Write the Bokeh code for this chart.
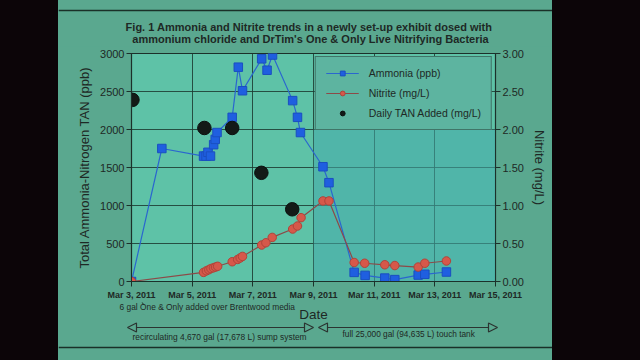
import pandas as pd
from bokeh.plotting import figure
from bokeh.models import (Range1d, LinearAxis, FixedTicker, Legend, LegendItem, Label,
                          Arrow, NormalHead, Div, BoxAnnotation, NumeralTickFormatter)
from bokeh.layouts import row
from bokeh.embed import file_html
from bokeh.resources import INLINE

# ---------------- data ----------------
ammonia_time = ["2011-03-03 00:00", "2011-03-04 00:00", "2011-03-05 09:00", "2011-03-05 11:00",
                "2011-03-05 12:30", "2011-03-05 14:30", "2011-03-05 17:00", "2011-03-05 18:15",
                "2011-03-05 19:40", "2011-03-06 07:40", "2011-03-06 12:30", "2011-03-06 15:50",
                "2011-03-07 07:00", "2011-03-07 11:15", "2011-03-07 15:35", "2011-03-08 07:30",
                "2011-03-08 11:20", "2011-03-08 13:40", "2011-03-09 07:30", "2011-03-09 12:15",
                "2011-03-10 08:10", "2011-03-10 16:50", "2011-03-11 08:25", "2011-03-11 16:20",
                "2011-03-12 10:50", "2011-03-12 16:05", "2011-03-13 09:10"]
ammonia_ppb = [0, 1750, 1650, 1650, 1700, 1650, 1800, 1870, 1960, 2160, 2820, 2510,
               2930, 2780, 2980, 2380, 2160, 1960, 1510, 1300, 120, 80, 45, 25, 85, 95, 125]

nitrite_time = ["2011-03-03 00:00", "2011-03-05 09:00", "2011-03-05 11:15", "2011-03-05 13:10",
                "2011-03-05 14:50", "2011-03-05 16:50", "2011-03-05 18:30", "2011-03-05 20:10",
                "2011-03-06 07:40", "2011-03-06 12:00", "2011-03-06 14:00", "2011-03-06 15:50",
                "2011-03-07 07:00", "2011-03-07 10:20", "2011-03-07 15:20", "2011-03-08 07:30",
                "2011-03-08 11:20", "2011-03-08 14:10", "2011-03-09 07:30", "2011-03-09 12:15",
                "2011-03-10 08:10", "2011-03-10 16:30", "2011-03-11 08:25", "2011-03-11 16:20",
                "2011-03-12 10:50", "2011-03-12 16:05", "2011-03-13 09:10"]
nitrite_mgL = [0.0, 0.12, 0.14, 0.155, 0.17, 0.18, 0.19, 0.20, 0.26, 0.29, 0.31, 0.33,
               0.48, 0.51, 0.58, 0.69, 0.73, 0.84, 1.06, 1.06, 0.25, 0.24, 0.22, 0.21,
               0.19, 0.24, 0.27]

tan_time = ["2011-03-03 00:45", "2011-03-05 09:40", "2011-03-06 07:40", "2011-03-07 06:45",
            "2011-03-08 07:10"]
tan_mgL = [2.39, 2.02, 2.02, 1.43, 0.95]

tick_dates = ["2011-03-03", "2011-03-05", "2011-03-07", "2011-03-09",
              "2011-03-11", "2011-03-13", "2011-03-15"]
tick_labels = ["Mar 3, 2011", "Mar 5, 2011", "Mar 7, 2011", "Mar 9, 2011",
               "Mar 11, 2011", "Mar 13, 2011", "Mar 15, 2011"]
left_ticks = [0, 500, 1000, 1500, 2000, 2500, 3000]
right_ticks = [0.0, 0.5, 1.0, 1.5, 2.0, 2.5, 3.0]

title_lines = ["Fig. 1  Ammonia and Nitrite trends in a newly set-up exhibit dosed with",
               "ammonium chloride and DrTim's One & Only Live Nitrifying Bacteria"]
note_media = "6 gal One & Only added over Brentwood media"
note_sump = "recirculating 4,670 gal (17,678 L) sump system"
note_tank = "full 25,000 gal (94,635 L) touch tank"


def to_ms(lst):
    return [float(v) for v in (pd.to_datetime(lst) - pd.Timestamp("1970-01-01")) / pd.Timedelta("1ms")]


ax_ms = to_ms(ammonia_time)
nx_ms = to_ms(nitrite_time)
tx_ms = to_ms(tan_time)
tk_ms = [int(round(v)) for v in to_ms(tick_dates)]

# ---------------- layout (absolute pixels of the 640x360 page) ----------------
LEFT_DARK = 58
RIGHT_EDGE = 552
W = RIGHT_EDGE - LEFT_DARK
TOP_H = 46          # title strip 0..46
MAIN_BOTTOM = 302   # main figure 46..302
FL, FR, FT, FB = 131, 495, 53, 282

TXT = "#1e2925"
FONT = "Liberation Sans"
SLIDE = "#5aa88f"
PLOTBG = "#5ec2a7"
EDGE = "#1a3028"
DARK = "#0c0508"
ARROW = "#2b3431"


def strip(height, y_top):
    """A figure whose frame fills its whole canvas, with page-pixel coordinates."""
    f = figure(width=W, height=height, output_backend="svg", toolbar_location=None,
               x_range=Range1d(LEFT_DARK, RIGHT_EDGE), y_range=Range1d(y_top + height, y_top),
               min_border=0, background_fill_color=SLIDE, border_fill_color=SLIDE,
               outline_line_color=None)
    f.axis.visible = False
    f.grid.visible = False
    return f


def framed(fig, height):
    l = Div(text="", width=LEFT_DARK, height=height, margin=0, styles={"background-color": DARK})
    r = Div(text="", width=640 - RIGHT_EDGE, height=height, margin=0, styles={"background-color": DARK})
    return row(l, fig, r, spacing=0, margin=0, styles={"background-color": SLIDE})


# ---- title strip ----
top = strip(TOP_H, 0)
top.add_layout(Arrow(x_start=LEFT_DARK, y_start=10, x_end=RIGHT_EDGE, y_end=10, end=None,
                     line_color=EDGE, line_width=1.5))
for i, t in enumerate(title_lines):
    top.add_layout(Label(x=310, y=26.5 + 12 * i, text=t, text_align="center", text_baseline="middle",
                         text_font=FONT, text_font_style="bold", text_font_size="11px",
                         text_color=TXT))

# ---- main chart ----
p = figure(width=W, height=MAIN_BOTTOM - TOP_H, output_backend="svg", toolbar_location=None,
           x_range=Range1d(tk_ms[0], tk_ms[-1]), y_range=Range1d(0, 3000),
           min_border_left=FL - LEFT_DARK, min_border_right=RIGHT_EDGE - FR,
           min_border_top=FT - TOP_H, min_border_bottom=MAIN_BOTTOM - FB,
           background_fill_color=PLOTBG, border_fill_color=SLIDE,
           outline_line_color="#1c302a", outline_line_width=1.2)
p.extra_y_ranges = {"nitrite": Range1d(0, 3)}

p.add_layout(BoxAnnotation(left=tk_ms[3], bottom=0, top=2000, fill_color="#45abab",
                           fill_alpha=0.55, line_alpha=0, level="underlay"))

p.xaxis.ticker = FixedTicker(ticks=tk_ms)
p.xaxis.major_label_overrides = {k: l for k, l in zip(tk_ms, tick_labels)}
p.xaxis.major_label_text_font = FONT
p.xaxis.major_label_text_font_style = "bold"
p.xaxis.major_label_text_font_size = "9px"
p.xaxis.major_label_text_color = TXT
p.xaxis.major_label_standoff = 3

p.yaxis.ticker = FixedTicker(ticks=left_ticks)
p.yaxis.axis_label = "Total Ammonia-Nitrogen TAN (ppb)"
p.yaxis.axis_label_standoff = 5
p.yaxis.major_label_standoff = 2

ry = LinearAxis(y_range_name="nitrite", ticker=FixedTicker(ticks=right_ticks),
                formatter=NumeralTickFormatter(format="0.00"), axis_label="Nitrite (mg/L)")
p.add_layout(ry, "right")
ry.major_label_standoff = 2
ry.axis_label_standoff = 5

for ax in [p.xaxis[0], p.yaxis[0], ry]:
    ax.axis_line_color = "#1c302a"
    ax.major_tick_line_color = "#1c302a"
    ax.major_tick_out = 5
    ax.major_tick_in = 0
    ax.minor_tick_line_color = None
for ax in [p.yaxis[0], ry]:
    ax.major_label_text_font = FONT
    ax.major_label_text_font_size = "11px"
    ax.major_label_text_color = TXT
    ax.axis_label_text_font = FONT
    ax.axis_label_text_font_style = "normal"
    ax.axis_label_text_font_size = "13px"
    ax.axis_label_text_color = TXT

p.xgrid.ticker = FixedTicker(ticks=tk_ms)
p.ygrid.ticker = FixedTicker(ticks=left_ticks)
p.grid.grid_line_color = "#1c3a30"
p.grid.grid_line_alpha = 0.85
p.grid.grid_line_width = 1

BLUE = "#1f5fe0"
RED = "#d6584a"
a_line = p.line(ax_ms, ammonia_ppb, line_color="#2a66cf", line_width=1.2)
a_pts = p.scatter(ax_ms, ammonia_ppb, marker="square", size=8.5, fill_color=BLUE, line_color="#1a4fc0")
n_line = p.line(nx_ms, nitrite_mgL, line_color="#8c4a48", line_width=1.2, y_range_name="nitrite")
n_pts = p.scatter(nx_ms, nitrite_mgL, marker="circle", size=8.5, fill_color=RED, line_color="#b0443a",
                  y_range_name="nitrite")
t_pts = p.scatter(tx_ms, tan_mgL, marker="circle", size=13.5, fill_color="#131a17", line_color="#0b100e",
                  y_range_name="nitrite")

legend = Legend(items=[LegendItem(label="Ammonia (ppb)", renderers=[a_line, a_pts]),
                       LegendItem(label="Nitrite (mg/L)", renderers=[n_line, n_pts]),
                       LegendItem(label="Daily TAN Added (mg/L)", renderers=[t_pts])],
                location="top_right", margin=3, padding=10, spacing=8,
                glyph_width=33, glyph_height=12, label_height=12, label_standoff=10,
                label_text_font=FONT, label_text_font_size="10.5px", label_text_color=TXT,
                background_fill_color="#5db4a0", background_fill_alpha=1,
                border_line_color="#24352f", border_line_width=1.5)
p.add_layout(legend)

# ---- notes strip under the axis ----
bot = strip(360 - MAIN_BOTTOM, MAIN_BOTTOM)
bot.add_layout(Label(x=313, y=314, text="Date", text_align="center", text_baseline="middle",
                     text_font=FONT, text_font_size="13.5px", text_color=TXT))
bot.add_layout(Label(x=119, y=306, text=note_media, text_align="left", text_baseline="middle",
                     text_font=FONT, text_font_size="8.4px", text_color=TXT))
bot.add_layout(Arrow(x_start=140.5, y_start=300, x_end=143, y_end=304, end=None,
                     line_color="#1c2a26", line_width=1))
for xs, xe in [(127, 313), (318, 497)]:
    bot.add_layout(Arrow(x_start=xs, y_start=327, x_end=xe, y_end=327,
                         line_color=ARROW, line_width=1.2,
                         start=NormalHead(size=9, fill_color=SLIDE, line_color=ARROW, line_width=1.2),
                         end=NormalHead(size=9, fill_color=SLIDE, line_color=ARROW, line_width=1.2)))
bot.add_layout(Label(x=132, y=336, text=note_sump, text_align="left", text_baseline="middle",
                     text_font=FONT, text_font_size="8.4px", text_color=TXT))
bot.add_layout(Label(x=342, y=333, text=note_tank, text_align="left", text_baseline="middle",
                     text_font=FONT, text_font_size="8.3px", text_color=TXT))
bot.add_layout(Arrow(x_start=LEFT_DARK, y_start=347, x_end=RIGHT_EDGE, y_end=347, end=None,
                     line_color=EDGE, line_width=1.5))

roots = [framed(top, TOP_H), framed(p, MAIN_BOTTOM - TOP_H), framed(bot, 360 - MAIN_BOTTOM)]
open("out.html", "w").write(file_html(roots, INLINE))
